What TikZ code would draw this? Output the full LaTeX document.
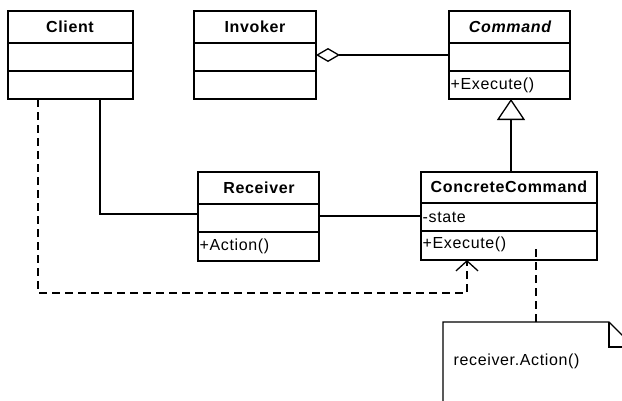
\documentclass[tikz,border=0pt]{standalone}
\usepackage{fontspec}
\setmainfont{Liberation Sans}[LetterSpace=4]
\usetikzlibrary{arrows.meta}
\begin{document}
\begin{tikzpicture}[x=1pt,y=-1pt, line width=1.3pt,
  every node/.style={font=\fontsize{16}{19}\selectfont},
  cls/.style={draw, anchor=north west, inner sep=0pt, outer sep=0pt},
  ttl/.style={font=\fontsize{16}{19}\selectfont\bfseries, inner sep=0pt},
  ttli/.style={font=\fontsize{16}{19}\selectfont\bfseries\itshape, inner sep=0pt},
  mem/.style={anchor=west, inner sep=0pt},
  dep/.style={dash pattern=on 8pt off 5pt}]
\useasboundingbox (0,0) rectangle (622,400);
% classes
\node[cls, minimum width=125pt, minimum height=88pt] (client) at (8,11) {};
\draw (8,43) -- (133,43) (8,71) -- (133,71);
\node[ttl] (clientname) at (70,27) {Client};

\node[cls, minimum width=122pt, minimum height=88pt] (invoker) at (194,11) {};
\draw (194,43) -- (316,43) (194,71) -- (316,71);
\node[ttl] (invokername) at (255,27) {Invoker};

\node[cls, minimum width=121pt, minimum height=88pt] (command) at (449,11) {};
\draw (449,43) -- (570,43) (449,71) -- (570,71);
\node[ttli] (commandname) at (510,27) {Command};
\node[mem] (commandexec) at (450,85) {+Execute()};

\node[cls, minimum width=121pt, minimum height=89pt] (receiver) at (198,172) {};
\draw (198,204) -- (319,204) (198,232) -- (319,232);
\node[ttl] (receivername) at (259,188) {Receiver};
\node[mem] (receiveraction) at (199,246) {+Action()};

\node[cls, minimum width=176pt, minimum height=88pt] (concrete) at (421,172) {};
\draw (421,203) -- (597,203) (421,231) -- (597,231);
\node[ttl] (concretename) at (509,187) {ConcreteCommand};
\node[mem] (concretestate) at (422,217) {-state};
\node[mem] (concreteexec) at (422,244) {+Execute()};

% note
\begin{scope}
\clip (0,0) rectangle (622,400);
\draw (443,410) -- (443,322) -- (609,322) -- (636,349) -- (636,410);
\draw (609,322) -- (609,347) -- (636,347);
\end{scope}
\coordinate (notetop) at (536,322);
\coordinate (execpt) at (536,249);
\node[mem] (notetext) at (453,361) {receiver.Action()};

% connectors
\draw[-{Diamond[open,length=24pt,width=14pt]}] (command.west |- 0,55) -- (invoker.east |- 0,55);
\draw[-{Triangle[open,length=21pt,width=28pt]}] (concrete.north -| 511,0) -- (command.south -| 511,0);
\draw (client.south -| 100,0) |- (receiver.west |- 0,214);
\draw (receiver.east |- 0,216) -- (concrete.west |- 0,216);
\draw[dep, -{Straight Barb[length=10pt,width=22pt]}] (client.south -| 38,0) -- (38,293) -| (concrete.south -| 467,0);
\draw[dep] (execpt) -- (notetop);
\end{tikzpicture}
\end{document}
